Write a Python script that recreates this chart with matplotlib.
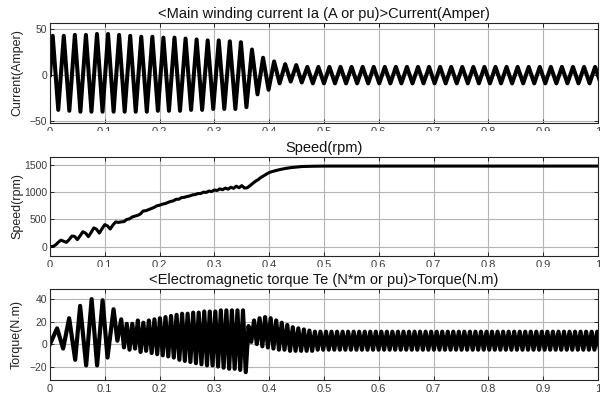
import numpy as np
import matplotlib
matplotlib.use("Agg")
import matplotlib.pyplot as plt
from matplotlib.patches import Rectangle

plt.rcParams['font.family'] = ['Liberation Sans', 'DejaVu Sans']

# ---- data ----
# main winding current, one peak and one trough per 50 Hz cycle
cur_period = 0.0202
cur_first_peak = 0.005
cur_peaks = [43, 43, 44, 44, 45, 45, 44, 43, 42, 42,
             41, 41, 40, 39, 38, 38, 37, 36, 28, 19,
             15, 12, 11] + [9] * 27
cur_troughs = [-38, -39, -40, -40, -40, -40, -40, -40, -40, -39,
               -39, -39, -38, -38, -37, -37, -37, -35, -21, -16,
               -9, -7, -8] + [-9] * 27

# rotor speed (rpm)
speed_t = [0.000, 0.005, 0.010, 0.015, 0.020, 0.025, 0.030, 0.035, 0.040, 0.045,
           0.050, 0.055, 0.060, 0.065, 0.070, 0.075, 0.080, 0.085, 0.090, 0.095,
           0.100, 0.105, 0.110, 0.115, 0.120, 0.125, 0.130, 0.135, 0.140, 0.145,
           0.150, 0.155, 0.160, 0.165, 0.170, 0.175, 0.180, 0.185, 0.190, 0.195,
           0.200, 0.205, 0.210, 0.215, 0.220, 0.225, 0.230, 0.235, 0.240, 0.245,
           0.250, 0.255, 0.260, 0.265, 0.270, 0.275, 0.280, 0.285, 0.290, 0.295,
           0.300, 0.305, 0.310, 0.315, 0.320, 0.325, 0.330, 0.335, 0.340, 0.345,
           0.350, 0.355, 0.360, 0.365, 0.370, 0.375, 0.380, 0.385, 0.390, 0.395,
           0.400, 0.410, 0.420, 0.430, 0.440, 0.450, 0.460, 0.480, 0.500, 1.000]
speed_rpm = [0, 5, 30, 80, 120, 100, 80, 130, 195, 190,
             130, 200, 275, 250, 185, 260, 345, 320, 250, 330,
             405, 380, 325, 400, 455, 445, 455, 460, 500, 510,
             545, 560, 575, 600, 655, 660, 680, 700, 720, 750,
             760, 780, 790, 810, 830, 840, 870, 870, 900, 905,
             920, 930, 950, 955, 975, 975, 1000, 995, 1020, 1010,
             1040, 1030, 1060, 1045, 1075, 1055, 1090, 1070, 1110, 1080,
             1120, 1075, 1080, 1120, 1160, 1200, 1230, 1270, 1300, 1330,
             1360, 1390, 1415, 1435, 1450, 1460, 1470, 1475, 1478, 1478]

# electromagnetic torque: slow start-up swings, then 100 Hz ripple
tq_start_t = [0.0, 0.013, 0.024, 0.035, 0.046, 0.055, 0.066, 0.076, 0.086, 0.096, 0.105, 0.116, 0.123]
tq_start_v = [0, 14, -4, 23, -14, 34, -19, 40, -19, 39, -12, 31, 3]
tq_ripple_start = 0.13
tq_ripple_period = 0.0101
tq_tops = [22, 18, 18, 21, 19, 21, 22, 23, 24, 25, 26, 27, 27, 28, 28, 29, 29, 29, 30, 30, 30, 30, 30,
           16, 21, 23, 24, 23, 21, 19, 17, 15, 14, 13, 12] + [11] * 52
tq_bottoms = [-3, -5, -4, -7, -6, -8, -9, -10, -11, -12, -14, -15, -16, -17, -18, -19, -19, -20, -21, -22, -22, -23, -25,
              2, 0, -2, -3, -4, -5, -5, -6, -6, -6, -6, -6] + [-5] * 52

xticks = [0, 0.1, 0.2, 0.3, 0.4, 0.5, 0.6, 0.7, 0.8, 0.9, 1]
xticklabels = ['0', '0.1', '0.2', '0.3', '0.4', '0.5', '0.6', '0.7', '0.8', '0.9', '1']

# ---- build the traces (peak/trough vertices) ----
n = len(cur_peaks)
pk_t = cur_first_peak + cur_period * np.arange(n)
cur_t = np.concatenate([[0.0], np.column_stack([pk_t, pk_t + cur_period / 2]).ravel()])
cur_v = np.concatenate([[0.0], np.column_stack([cur_peaks, cur_troughs]).ravel()])

m = len(tq_tops)
tp_t = tq_ripple_start + tq_ripple_period * np.arange(m)
tq_t = np.concatenate([tq_start_t, np.column_stack([tp_t, tp_t + tq_ripple_period / 2]).ravel()])
tq_v = np.concatenate([tq_start_v, np.column_stack([tq_tops, tq_bottoms]).ravel()])

fig = plt.figure(figsize=(6.0, 3.98), dpi=100)
ax1 = fig.add_axes([0.0833, 0.6917, 0.9133, 0.2505])
ax2 = fig.add_axes([0.0833, 0.3568, 0.9133, 0.2495])
ax3 = fig.add_axes([0.0833, 0.0452, 0.9133, 0.2286])

panels = [
    (ax1, cur_t, cur_v, '<Main winding current Ia (A or pu)>Current(Amper)', 'Current(Amper)',
     (-52, 57), [-50, 0, 50], 2.9),
    (ax2, speed_t, speed_rpm, 'Speed(rpm)', 'Speed(rpm)',
     (-170, 1650), [0, 500, 1000, 1500], 2.2),
    (ax3, tq_t, tq_v, '<Electromagnetic torque Te (N*m or pu)>Torque(N.m)', 'Torque(N.m)',
     (-32, 49), [-20, 0, 20, 40], 3.0),
]

for ax, x, y, title, ylab, ylim, yt, lw in panels:
    ax.plot(x, y, color='black', lw=lw, solid_joinstyle='round')
    ax.set_xlim(0, 1)
    ax.set_ylim(*ylim)
    ax.set_xticks(xticks)
    ax.set_xticklabels(xticklabels)
    ax.set_yticks(yt)
    ax.grid(True, color='#b4b4b4', lw=0.8)
    ax.set_axisbelow(True)
    ax.tick_params(direction='in', length=3, width=0.7, top=True, right=True,
                   labelsize=8, labelcolor='#3c3c3c', color='#262626', pad=3)
    ax.tick_params(axis='y', labelsize=7.5, pad=2)
    for s in ax.spines.values():
        s.set_color('#262626')
        s.set_linewidth(0.8)
    ax.set_title(title, fontsize=10.5, pad=3.5, color='#111111')
    ax.set_ylabel(ylab, fontsize=9, color='#222222')
    ax.yaxis.set_label_coords(-0.049, 0.5)

# the x tick labels of the upper two panels are cut off in the original screenshot
for y0, y1 in [(131, 141), (267, 272)]:
    fig.patches.append(Rectangle((0, 1 - y1 / 398), 1, (y1 - y0) / 398,
                                 transform=fig.transFigure, facecolor='white',
                                 edgecolor='none', zorder=10))

fig.savefig('out.png', dpi=100, facecolor='white')
